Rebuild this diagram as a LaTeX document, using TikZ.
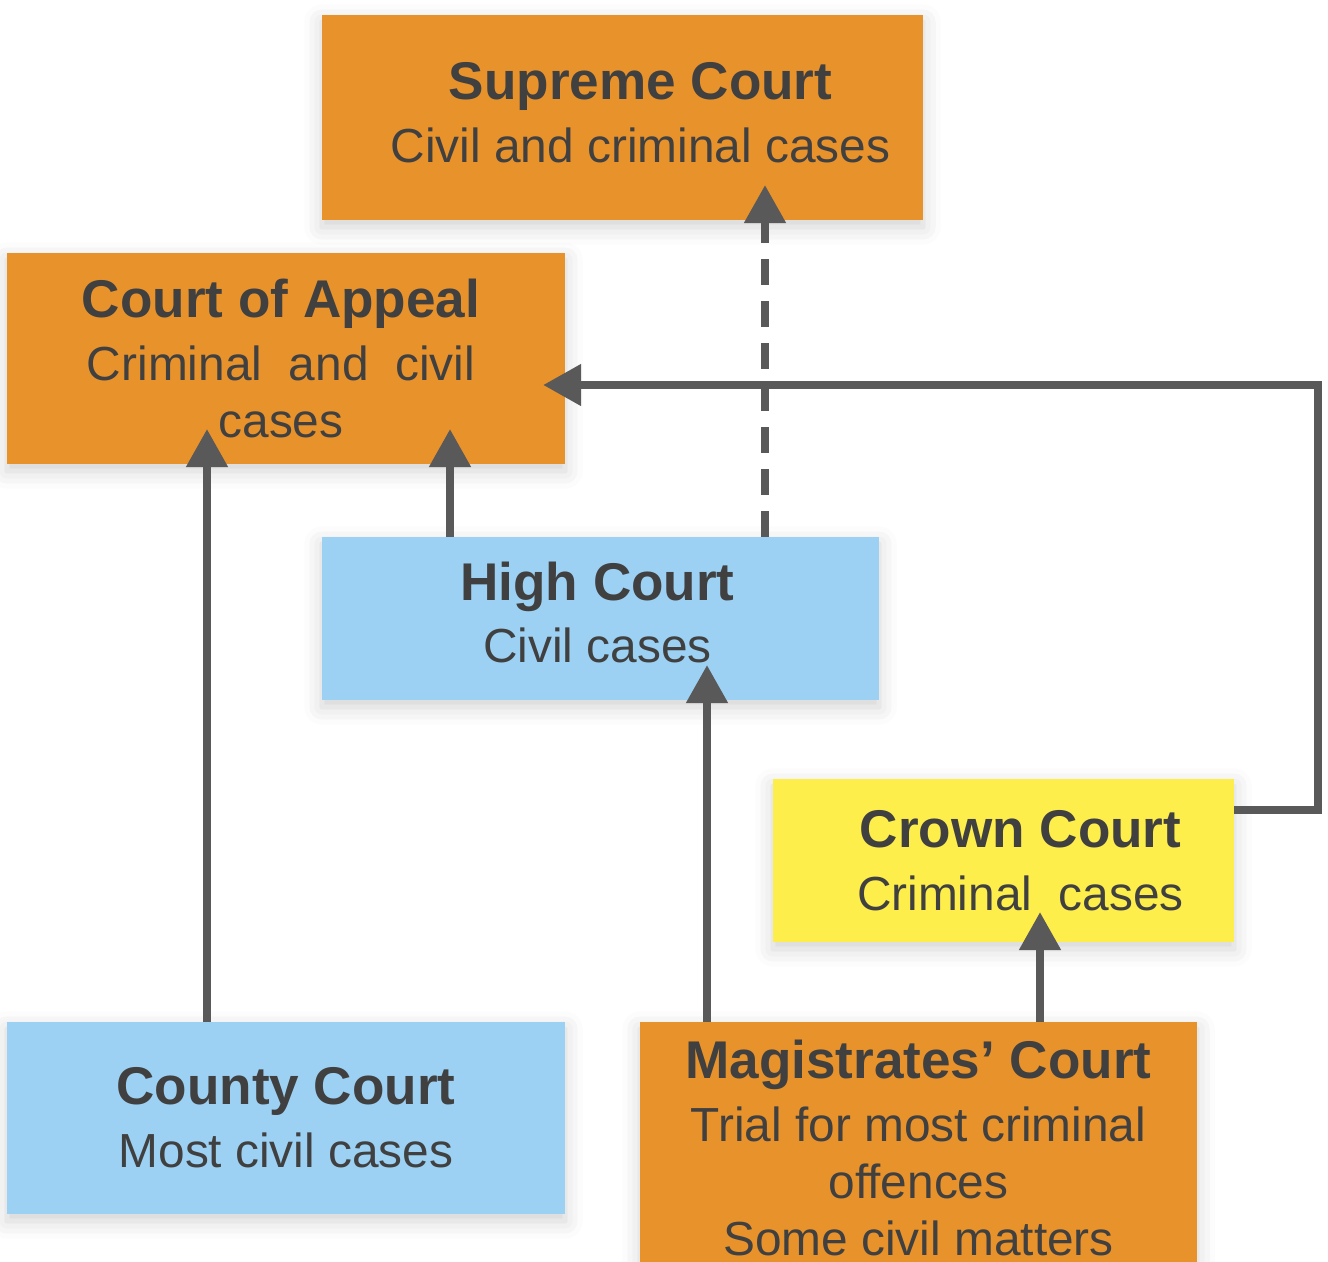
\documentclass[tikz,border=0pt]{standalone}
\usepackage{fontspec}
\setmainfont{Liberation Sans}
\usetikzlibrary{arrows.meta,shadows.blur}
\definecolor{courtorange}{HTML}{E8922C}
\definecolor{courtblue}{HTML}{9DD1F3}
\definecolor{courtyellow}{HTML}{FDEE4B}
\definecolor{textgray}{HTML}{404040}
\definecolor{arrowgray}{HTML}{595959}
\newcommand{\ctitle}[1]{{\fontsize{15.1}{18}\selectfont\bfseries #1}}

\begin{document}
\begin{tikzpicture}[x = 0.01cm, y = -0.01cm,
	court/.style = {rectangle, inner sep=0pt, outer sep=0pt,
		blur shadow={shadow xshift=0pt, shadow yshift=-2pt, shadow blur radius=5pt, shadow opacity=18}},
	courttext/.style = {align=center, text=textgray, inner sep=0pt, font=\fontsize{13.6}{16.2}\selectfont},
	appeal/.style = {->, >={Triangle[width=0.4cm,length=0.38cm]}, line width=0.08cm, draw=arrowgray, shorten >=-0.35cm},]
		\useasboundingbox (0,0) rectangle (1328,1261);
		\node[court, fill=courtorange, minimum width=6.01cm, minimum height=2.05cm,
			label={[courttext, xshift=0.18cm, yshift=0.05cm]center:{\ctitle{Supreme Court}\\[1.7pt] Civil and criminal cases}}] (SC) at (622.5,117.5) {};
		\node[court, fill=courtorange, minimum width=5.58cm, minimum height=2.11cm,
			label={[courttext, xshift=-0.05cm]center:{\ctitle{Court of Appeal}\\[1.7pt] Criminal\ \ and\ \ civil\\ cases}}] (CA) at (286,358.5) {};
		\node[court, fill=courtblue, minimum width=5.57cm, minimum height=1.63cm,
			label={[courttext, xshift=-0.03cm, yshift=0.06cm]center:{\ctitle{High Court}\\[1.7pt] Civil cases}}] (HC) at (600.5,618.5) {};
		\node[court, fill=courtyellow, minimum width=4.61cm, minimum height=1.63cm,
			label={[courttext, xshift=0.17cm]center:{\ctitle{Crown Court}\\[1.7pt] Criminal\ \ cases}}] (CrC) at (1003.5,860.5) {};
		\node[court, fill=courtblue, minimum width=5.58cm, minimum height=1.92cm,
			label={[courttext]center:{\ctitle{County Court}\\[1.7pt] Most civil cases}}] (CoC) at (286,1118) {};
		\node[court, fill=courtorange, minimum width=5.57cm, minimum height=2.56cm,
			label={[courttext, yshift=0.02cm]center:{\ctitle{Magistrates’ Court}\\[1.7pt] Trial for most criminal\\ offences\\ Some civil matters}}] (MC) at (918.5,1150) {};
		
		\draw[appeal] (CoC.north -| 207,0) -- (CA.south -| 207,0);
		\draw[appeal] (HC.north -| 450,0) -- (CA.south -| 450,0);
		\draw[appeal, dash pattern=on 0.26cm off 0.16cm] (HC.north -| 765,0) -- (SC.south -| 765,0);
		\draw[appeal] (MC.north -| 707,0) -- (HC.south -| 707,0);
		\draw[appeal, shorten >=-0.3cm] (MC.north -| 1040,0) -- (CrC.south -| 1040,0);
		\draw[appeal, shorten >=-0.22cm] (CrC.east |- 0,810) -- ++(84,0) |- (CA.east |- 0,385);
	\end{tikzpicture}
\end{document}
